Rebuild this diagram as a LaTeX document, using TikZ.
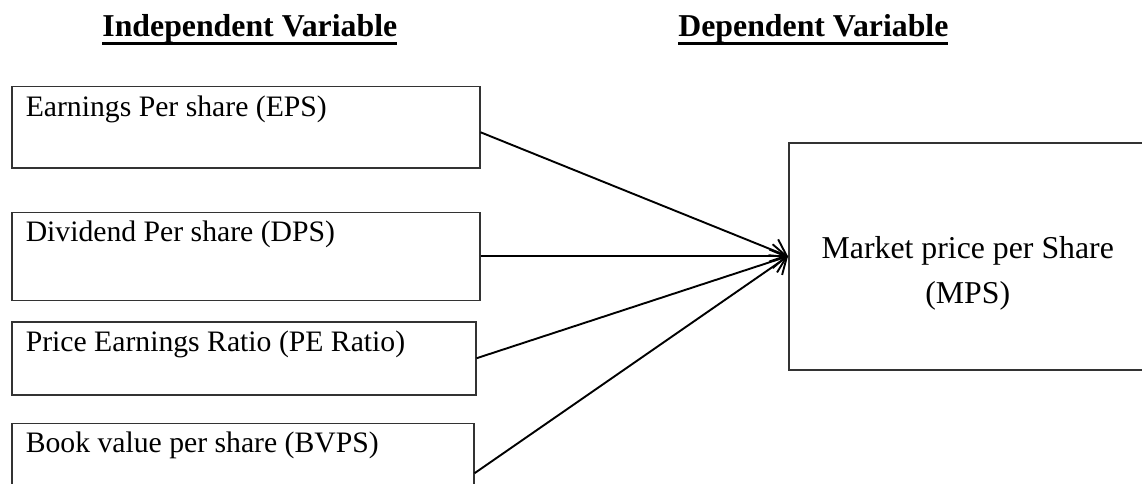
\documentclass[tikz,border=0pt]{standalone}
\usepackage{fontspec}
\setmainfont{Liberation Serif}
\usetikzlibrary{arrows.meta, positioning}

\newcommand{\boxtext}[3]{\parbox[t][#2][t]{#1}{#3}}
\newcommand{\thickul}[1]{\setbox0\hbox{#1}\rlap{\rule[-8pt]{\wd0}{3pt}}\box0}

\begin{document}
\begin{tikzpicture}[
    x=1pt, y=-1pt, thick,
    >={Straight Barb[length=14pt, width=24pt]},
    head/.style={draw=none, inner sep=0pt, anchor=base west,
    font=\fontsize{31.8}{36}\bfseries},
    var/.style={draw=black!80, line width=1.5pt, anchor=north west,
    inner xsep=14pt, inner ysep=9pt, align=left,
    font=\fontsize{29.7}{34}\selectfont},
    target/.style={draw=black!80, line width=1.5pt, anchor=north west,
    inner sep=0pt, font=\fontsize{31.8}{45}\selectfont},
    link/.style={line width=1.9pt}
    ]
    \path[use as bounding box, clip] (0,0) rectangle (1142,484);

    \node[head]   (indep)  at (102,37)   {\thickul{Independent Variable}};
    \node[head]   (dep)    at (678,37)   {\thickul{Dependent Variable}};

    \node[var]    (eps)    at (11,86)    {\boxtext{440pt}{63pt}{Earnings Per share (EPS)}};
    \node[var]    (dps)    [below=43pt of eps.south west, anchor=north west]
                                          {\boxtext{440pt}{70pt}{Dividend Per share (DPS)}};
    \node[var]    (per)    [below=20pt of dps.south west, anchor=north west]
                                          {\boxtext{436pt}{55pt}{Price Earnings Ratio (PE Ratio)}};
    \node[var]    (bvps)   [below=27pt of per.south west, anchor=north west]
                                          {\boxtext{434pt}{82pt}{Book value per share (BVPS)}};

    \node[target] (mps)    at (788,142)
      {\boxtext{358pt}{227pt}{\centering\vspace*{94pt}Market price per Share\\(MPS)}};

    \path[->, link]
      ([yshift=-5pt]eps.east)  edge  (mps.west)
      (dps.east)   edge  (mps.west)
      (per.east)   edge  (mps.west)
      (bvps.east)  edge  (mps.west)
    ;
  \end{tikzpicture}
\end{document}
